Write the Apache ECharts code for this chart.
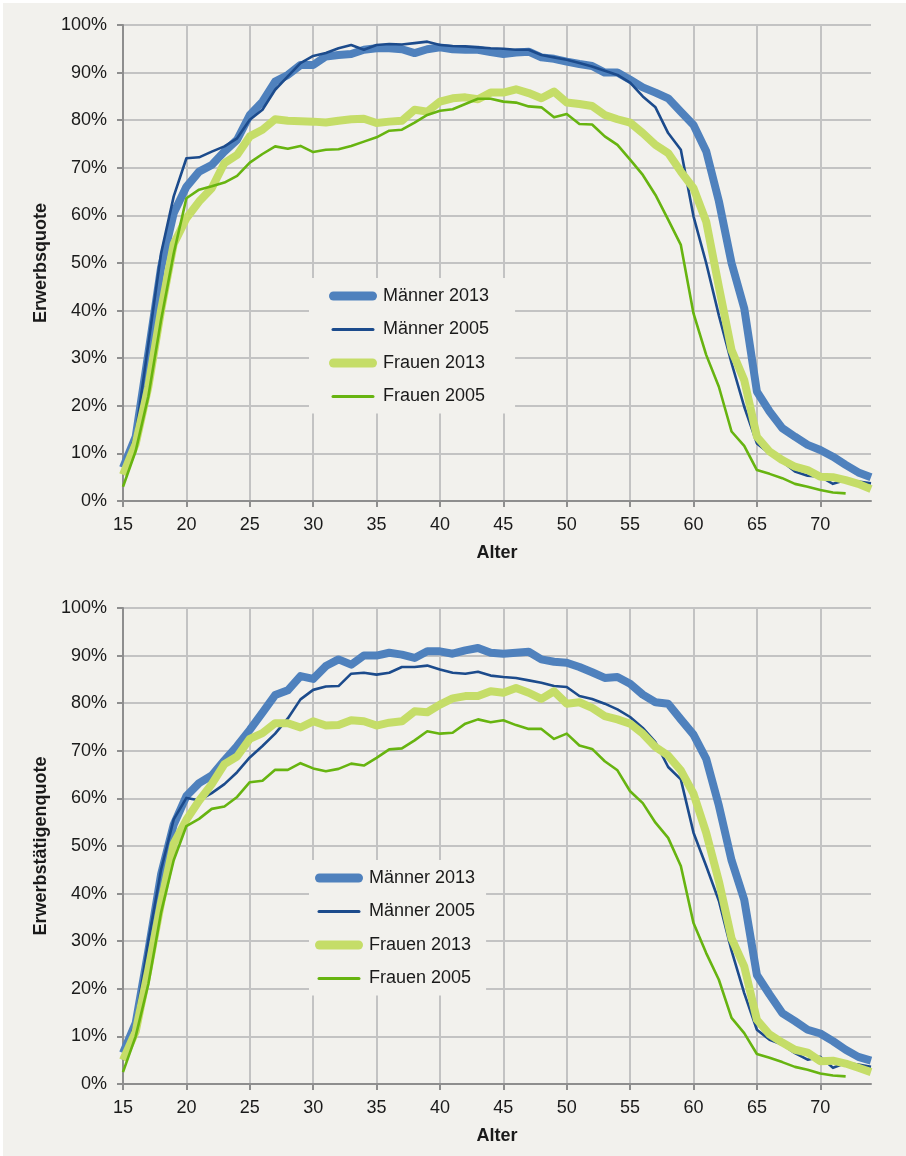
<!DOCTYPE html>
<html>
<head>
<meta charset="utf-8">
<script src="https://cdn.jsdelivr.net/npm/echarts@6/dist/echarts.min.js"></script>
<style>
  html, body { margin: 0; padding: 0; background: #ffffff; }
  #chart { position: absolute; left: 3px; top: 3px; width: 903px; height: 1153px; }
</style>
</head>
<body>
<div id="chart"></div>
<script>
// Age groups on the x axis
const ages = [15,16,17,18,19,20,21,22,23,24,25,26,27,28,29,30,31,32,33,34,35,36,37,38,39,40,
  41,42,43,44,45,46,47,48,49,50,51,52,53,54,55,56,57,58,59,60,61,62,63,64,65,66,67,68,69,70,
  71,72,73,74];
const xTickAges = [15,20,25,30,35,40,45,50,55,60,65,70];
const yTicks = [0,10,20,30,40,50,60,70,80,90,100];

// Erwerbsquote (labour force participation rate, %)
const erwMaenner2013 = [7,13.5,31,49,60.5,66,69.2,70.6,73.4,75.9,81.1,83.9,88.1,89.5,91.6,91.6,
  93.4,93.7,93.9,94.8,95.1,95.1,94.9,94.1,94.9,95.3,94.9,94.8,94.8,94.3,93.9,94.2,94.4,93.2,92.9,
  92.3,91.8,91.4,90.0,90.0,88.5,86.9,85.8,84.6,81.8,79.0,73.5,63,50.0,40.5,23.0,18.8,15.3,13.5,
  11.8,10.7,9.3,7.6,6.0,5.0];
const erwMaenner2005 = [6,14,33,52,64,72,72.2,73.4,74.5,76.2,80.1,82.2,86.4,89.2,92.0,93.5,94.1,
  95.1,95.8,94.8,95.8,96.0,95.9,96.2,96.5,95.8,95.6,95.5,95.3,95.1,95.0,94.8,94.8,93.7,93.2,92.7,
  92.0,91.3,90.4,89.5,87.9,85.0,82.7,77.3,73.8,59.8,50,39,29,19.8,12.1,10.0,8.3,6.2,5.3,5.1,3.6,
  4.4,4.1,3.7];
const erwFrauen2013 = [5.5,12,24,40,54,59.4,62.9,65.7,71.0,72.7,76.6,78.0,80.2,79.9,79.8,79.7,
  79.5,79.9,80.2,80.3,79.4,79.7,79.9,82.2,81.8,83.9,84.6,84.8,84.4,85.8,85.8,86.5,85.7,84.6,86.0,
  83.7,83.4,83.0,81.1,80.2,79.5,77.3,74.8,73.1,69.2,65.7,58.7,45,31.7,25.4,13.5,10.4,8.6,7.2,6.5,
  5.1,5.0,4.4,3.6,2.5];
const erwFrauen2005 = [3,10.5,22,38,52,63.6,65.4,66.1,66.9,68.3,71.1,72.9,74.5,74.0,74.6,73.3,
  73.8,73.9,74.6,75.5,76.4,77.8,78.0,79.5,81.1,82.0,82.3,83.4,84.5,84.5,83.9,83.7,82.9,82.7,80.6,
  81.3,79.2,79.1,76.6,74.8,71.7,68.5,64.3,59.1,53.8,39.4,30.7,24.0,14.6,11.6,6.5,5.7,4.8,3.6,3.0,
  2.3,1.8,1.6,null,null];

// Erwerbstätigenquote (employment rate, %)
const etqMaenner2013 = [6.5,12.8,28,44,54.5,60.5,63.2,64.8,68.0,71.0,74.4,78.0,81.7,82.7,85.7,
  85.1,87.8,89.2,88.1,90.0,90.0,90.6,90.2,89.5,90.9,90.9,90.4,91.1,91.6,90.6,90.4,90.6,90.8,89.2,
  88.7,88.5,87.6,86.5,85.3,85.5,84.1,81.8,80.2,79.9,76.6,73.4,68.3,58.5,47,38.7,22.9,18.8,14.9,
  13.2,11.4,10.6,9.0,7.2,5.7,4.9];
const etqMaenner2005 = [5,13,30,45,55.6,60.1,59.6,61.1,63.0,65.5,68.6,71.0,73.6,76.8,80.8,82.8,
  83.5,83.6,86.2,86.4,86.0,86.4,87.6,87.6,87.9,87.1,86.4,86.2,86.6,85.8,85.5,85.3,84.8,84.3,83.6,
  83.4,81.5,80.9,79.9,78.7,77.1,74.8,71.8,66.6,64.0,52.8,45.8,38.5,28.0,19.1,11.4,9.3,8.3,6.5,5.1,
  5.7,3.4,4.4,4.1,3.6];
const etqFrauen2013 = [5,11,24,38,50.5,55.5,59.5,63.0,67.2,68.8,72.5,73.7,75.8,75.8,74.9,76.2,
  75.3,75.4,76.4,76.2,75.3,75.9,76.2,78.3,78.1,79.7,81.0,81.5,81.5,82.5,82.2,83.2,82.2,80.9,82.5,
  79.9,80.2,79.0,77.3,76.6,75.7,73.6,70.8,69.0,65.9,61.0,52.8,42.6,30.6,24.7,13.5,10.4,8.7,7.2,
  6.6,4.8,4.9,4.3,3.4,2.5];
const etqFrauen2005 = [2.5,10,21,36,47,54.2,55.7,57.8,58.3,60.3,63.4,63.7,66.0,66.0,67.4,66.3,
  65.7,66.2,67.3,66.9,68.5,70.3,70.5,72.2,74.1,73.6,73.8,75.7,76.6,76.0,76.4,75.4,74.6,74.6,72.5,
  73.6,71.1,70.4,67.8,65.9,61.5,59.0,54.9,51.7,45.8,33.8,27.5,21.9,13.9,10.7,6.3,5.5,4.6,3.6,3.0,
  2.2,1.8,1.6,null,null];

const seriesNames = ['Männer 2013', 'Männer 2005', 'Frauen 2013', 'Frauen 2005'];
const seriesColors = ['#4f81bd', '#1c4b8c', '#c5dd68', '#67b410'];
const seriesWidths = [8, 2.6, 8, 2.6];

const FONT = '"Liberation Sans", Arial, Helvetica, sans-serif';
const TEXT = '#1a1a1a';
const BG = '#f2f1ed';

// legend icons: wide capsule for the 2013 lines, slim capsule for 2005
const thickIcon = 'path://M0 0M48 9M4.5 0H43.5A4.5 4.5 0 0 1 43.5 9H4.5A4.5 4.5 0 0 1 4.5 0Z';
const thinIcon = 'path://M0 0M48 9M4 3H44A1.5 1.5 0 0 1 44 6H4A1.5 1.5 0 0 1 4 3Z';

const isTickAge = (idx, val) => xTickAges.indexOf(Number(val)) >= 0;

function xAxisFor(gridIndex) {
  return {
    type: 'category', gridIndex, data: ages, boundaryGap: false,
    name: 'Alter', nameLocation: 'middle', nameGap: 43,
    nameTextStyle: { fontFamily: FONT, fontSize: 18, fontWeight: 'bold', color: TEXT },
    axisLine: { lineStyle: { color: '#8e8e8e', width: 2 } },
    axisTick: { show: true, interval: isTickAge, length: 6, lineStyle: { color: '#8e8e8e', width: 2 } },
    axisLabel: { interval: isTickAge, margin: 15, fontFamily: FONT, fontSize: 18, color: TEXT },
    splitLine: { show: true, interval: isTickAge, lineStyle: { color: '#c3c3c3', width: 2 } }
  };
}

function yAxisFor(gridIndex, title) {
  return {
    type: 'value', gridIndex, min: yTicks[0], max: yTicks[yTicks.length - 1], interval: 10,
    name: title, nameLocation: 'middle', nameGap: 72, nameRotate: 90,
    nameTextStyle: { fontFamily: FONT, fontSize: 18, fontWeight: 'bold', color: TEXT },
    axisLine: { show: true, lineStyle: { color: '#8e8e8e', width: 2 } },
    axisTick: { show: true, length: 6, lineStyle: { color: '#8e8e8e', width: 2 } },
    axisLabel: { formatter: '{value}%', margin: 16, fontFamily: FONT, fontSize: 18, color: TEXT },
    splitLine: { show: true, lineStyle: { color: '#c3c3c3', width: 2 } }
  };
}

function lineSeries(i, axisIndex, values) {
  return {
    name: seriesNames[i], type: 'line', xAxisIndex: axisIndex, yAxisIndex: axisIndex,
    data: values, showSymbol: false, symbol: 'none', connectNulls: false,
    color: seriesColors[i],
    lineStyle: { color: seriesColors[i], width: seriesWidths[i], join: 'round' },
    emphasis: { disabled: true }, animation: false, z: 2 + i
  };
}

function legendFor(left, top, padding) {
  return {
    orient: 'vertical', left, top, padding,
    backgroundColor: BG, itemWidth: 48, itemHeight: 14, itemGap: 15.5,
    itemStyle: { borderWidth: 0 },
    textStyle: { fontFamily: FONT, fontSize: 18, color: TEXT, padding: [0, 0, 0, 1] },
    selectedMode: false,
    data: seriesNames.map((n, i) => ({ name: n, icon: i % 2 === 0 ? thickIcon : thinIcon }))
  };
}

const chart = echarts.init(document.getElementById('chart'), null, { renderer: 'canvas' });
chart.setOption({
  backgroundColor: BG,
  animation: false,
  grid: [
    { left: 120, top: 22, width: 748, height: 476 },
    { left: 120, top: 605, width: 748, height: 476 }
  ],
  xAxis: [xAxisFor(0), xAxisFor(1)],
  yAxis: [yAxisFor(0, 'Erwerbsquote'), yAxisFor(1, 'Erwerbstätigenquote')],
  legend: [
    legendFor(306, 275, [9, 26, 8, 20]),
    legendFor(306, 857, [9, 11, 8, 6])
  ],
  series: [
    lineSeries(0, 0, erwMaenner2013),
    lineSeries(1, 0, erwMaenner2005),
    lineSeries(2, 0, erwFrauen2013),
    lineSeries(3, 0, erwFrauen2005),
    lineSeries(0, 1, etqMaenner2013),
    lineSeries(1, 1, etqMaenner2005),
    lineSeries(2, 1, etqFrauen2013),
    lineSeries(3, 1, etqFrauen2005)
  ]
});
</script>
</body>
</html>
